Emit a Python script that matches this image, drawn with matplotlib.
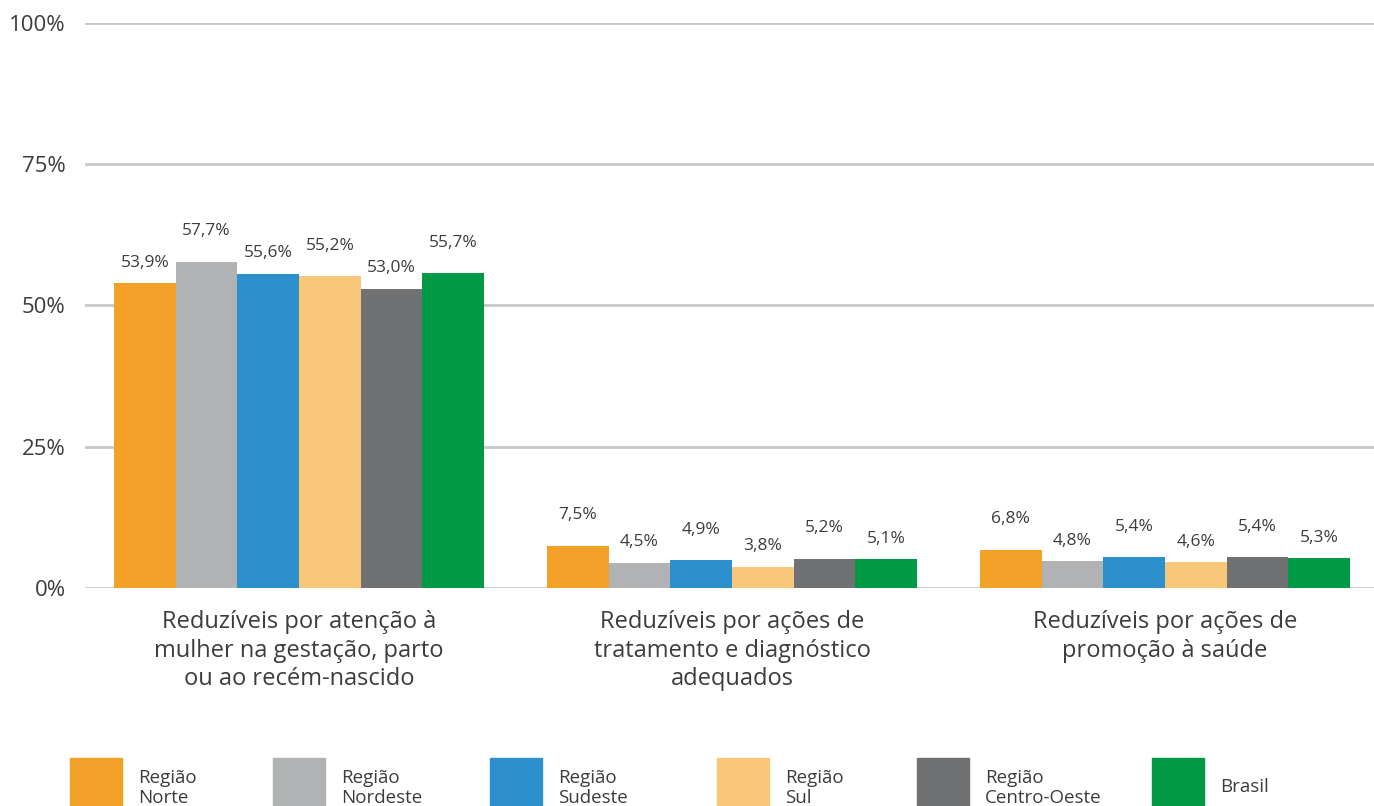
import numpy as np
import matplotlib.pyplot as plt
from matplotlib.patches import Rectangle

# categories and series
categories = ['Reduzíveis por atenção à\nmulher na gestação, parto\nou ao recém-nascido',
              'Reduzíveis por ações de\ntratamento e diagnóstico\nadequados',
              'Reduzíveis por ações de\npromoção à saúde']
series = ['Região\nNorte', 'Região\nNordeste', 'Região\nSudeste', 'Região\nSul',
          'Região\nCentro-Oeste', 'Brasil']
norte = [53.9, 7.5, 6.8]
nordeste = [57.7, 4.5, 4.8]
sudeste = [55.6, 4.9, 5.4]
sul = [55.2, 3.8, 4.6]
centro_oeste = [53.0, 5.2, 5.4]
brasil = [55.7, 5.1, 5.3]
values = [norte, nordeste, sudeste, sul, centro_oeste, brasil]

colors = ['#f3a028', '#b1b2b4', '#2b90cb', '#f9c77a', '#707173', '#009a46']
txt = '#3c3c3c'
plt.rcParams['font.family'] = ['Open Sans', 'DejaVu Sans']

fig = plt.figure(figsize=(13.74, 8.06), dpi=100)
ax = fig.add_axes([0.062, 0.2705, 0.938, 0.701])

x = np.arange(len(categories))
w = 0.1424
# staggered label offsets (in % units) to keep labels apart
raise_big = 5.4
raise_small = 3.6
for i, vals in enumerate(values):
    pos = x + (i - 2.5) * w
    ax.bar(pos, vals, width=w, color=colors[i], zorder=3)
    for j, (p, v) in enumerate(zip(pos, vals)):
        if j == 0:
            r = raise_big if i % 2 == 1 else raise_small
        else:
            r = raise_big if i % 2 == 0 else raise_small
        ax.text(p, v + r, f'{v:.1f}%'.replace('.', ','), ha='center', va='center',
                fontsize=12.5, color=txt)

ax.set_ylim(0, 100)
ax.set_xlim(-0.494, 2.483)
ax.set_yticks([0, 25, 50, 75, 100])
ax.set_yticklabels(['0%', '25%', '50%', '75%', '100%'], fontsize=16, color=txt)
ax.yaxis.grid(True, color='#c8c8c8', linewidth=2, zorder=0)
ax.set_axisbelow(True)
ax.tick_params(axis='y', length=0, pad=14)
ax.set_xticks(x)
ax.set_xticklabels(categories, fontsize=17, color=txt, linespacing=1.25)
ax.tick_params(axis='x', length=0, pad=16)
for s in ax.spines.values():
    s.set_visible(False)

# legend along the bottom edge
leg_x = [70, 273, 490, 717, 917, 1152]
for i, name in enumerate(series):
    x0 = leg_x[i] / 1374
    fig.patches.append(Rectangle((x0, 0), 52 / 1374, 48 / 806, transform=fig.transFigure,
                                 color=colors[i]))
    fig.text(x0 + 68 / 1374, 19 / 806 if '\n' not in name else 18 / 806, name,
             fontsize=13.5, color=txt, va='center', ha='left', linespacing=1.2)

plt.savefig('out.png', dpi=100)
